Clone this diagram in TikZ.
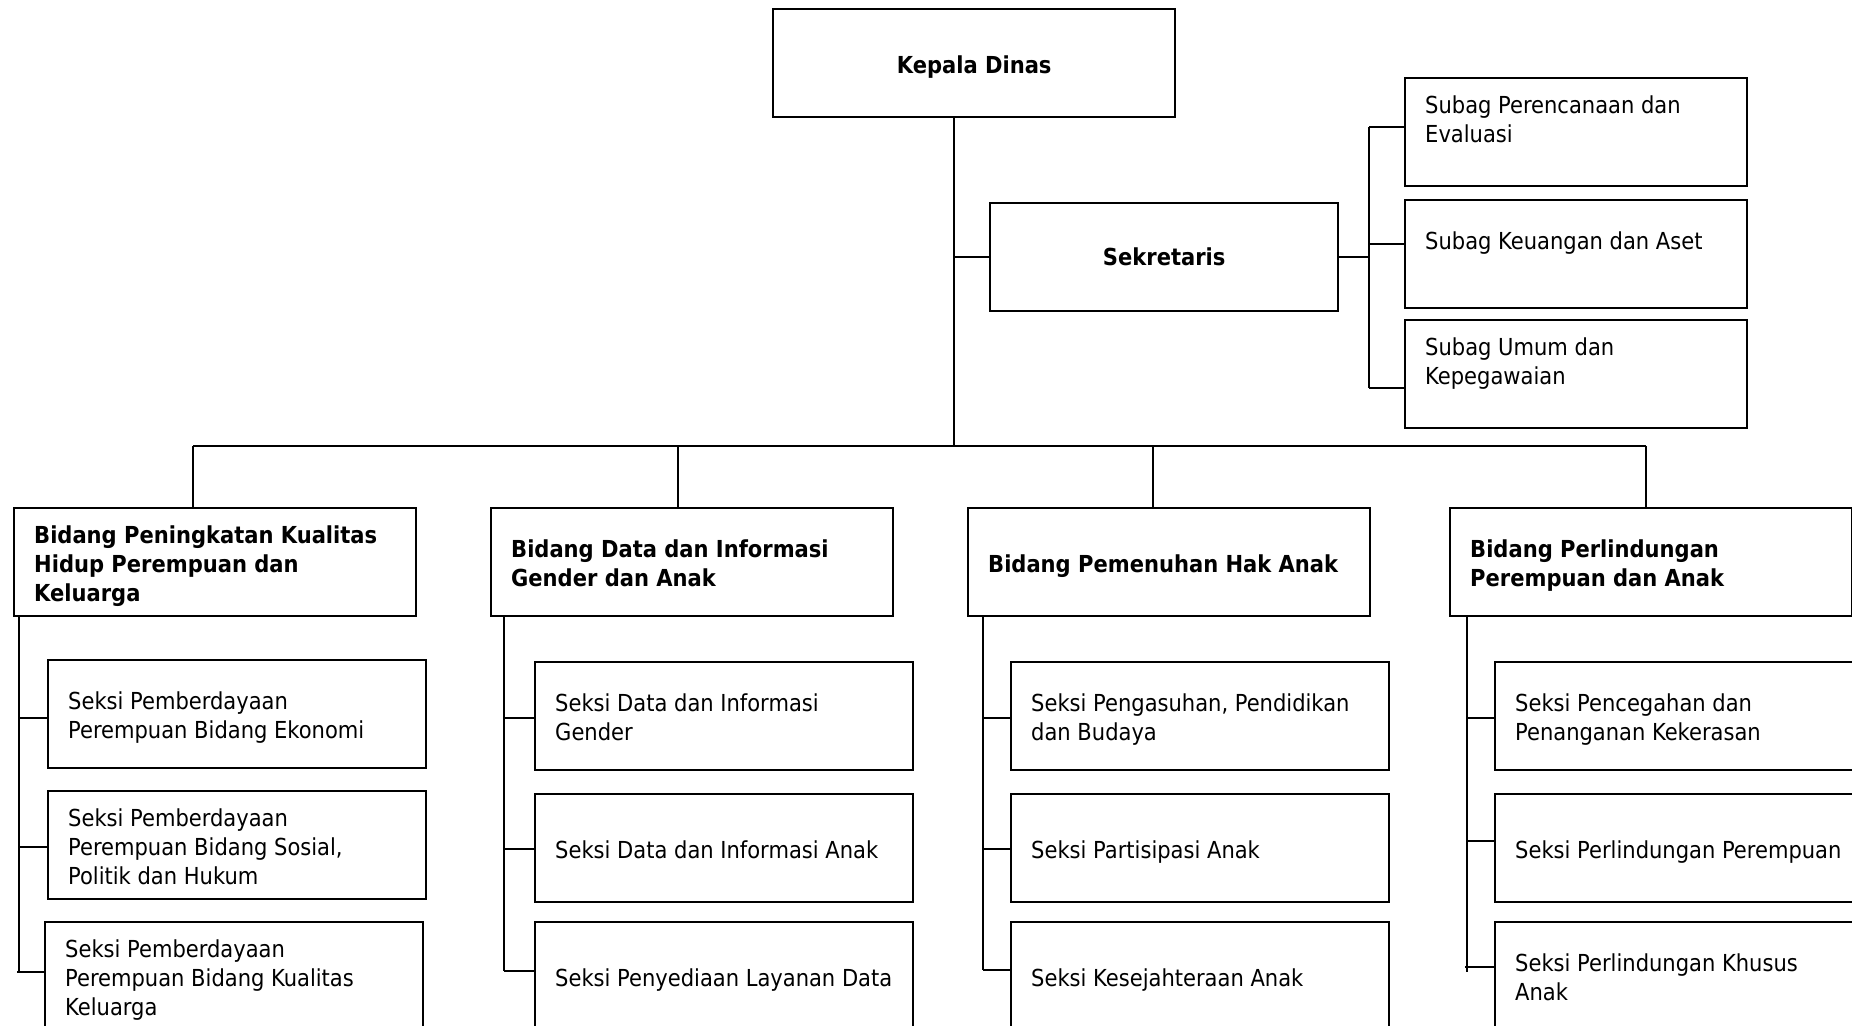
\documentclass[tikz,border=0pt]{standalone}
\usepackage{fontspec}
\setmainfont{DejaVu Sans Condensed}
\newcommand\lb[2]{\makebox[#1][l]{\raisebox{0pt}[\dimexpr\height+4.4pt\relax][\depth]{\begin{tabular}{@{}l@{}}#2\end{tabular}}}}
\newcommand\dn[1]{\raisebox{0pt}[\dimexpr\height+3.6pt\relax][\depth]{#1}}
\begin{document}
\begin{tikzpicture}[x=0.5pt,y=-0.5pt,
  txt/.style={font=\fontsize{11.7pt}{14.45pt}\selectfont},
  bx/.style={txt, draw, line width=1.2pt, anchor=north west, inner xsep=10pt, inner ysep=0pt, minimum height=54pt},
  topbox/.style={bx, minimum width=201pt, font=\fontsize{11.7pt}{14.45pt}\selectfont\bfseries},
  sekbox/.style={bx, minimum width=174pt, font=\fontsize{11.7pt}{14.45pt}\selectfont\bfseries},
  subbox/.style={bx, minimum width=171pt},
  bidbox/.style={bx, minimum width=201pt, font=\fontsize{11.7pt}{14.45pt}\selectfont\bfseries},
  seksbox/.style={bx, minimum width=189pt},
  conn/.style={line width=1.1pt},
  thin/.style={line width=0.8pt}
]
\useasboundingbox (0,0) rectangle (1852,1026);
\clip (0,0) rectangle (1852,1026);

% top
\node[topbox] (kd) at (772,8) {\dn{Kepala Dinas}};
\node[sekbox] (sek) at (989,202) {Sekretaris};

\node[subbox] (sb1) at (1404,77) {\parbox[c][50pt][t]{151pt}{\vspace*{5.4pt}\strut Subag Perencanaan dan\\Evaluasi}};
\node[subbox] (sb2) at (1404,199) {\parbox[c][50pt][t]{151pt}{\vspace*{12.4pt}\strut Subag Keuangan dan Aset}};
\node[subbox] (sb3) at (1404,319) {\parbox[c][50pt][t]{151pt}{\vspace*{5.4pt}\strut Subag Umum dan\\Kepegawaian}};

% bidang
\node[bidbox] (b1) at (13,507) {\lb{181pt}{Bidang Peningkatan Kualitas\\Hidup Perempuan dan\\Keluarga}};
\node[bidbox] (b2) at (490,507) {\lb{181pt}{Bidang Data dan Informasi\\Gender dan Anak}};
\node[bidbox] (b3) at (967,507) {\lb{181pt}{Bidang Pemenuhan Hak Anak}};
\node[bidbox] (b4) at (1449,507) {\lb{181pt}{Bidang Perlindungan\\Perempuan dan Anak}};

% seksi column 1
\node[seksbox] (s11) at (47,659) {\lb{169pt}{Seksi Pemberdayaan\\Perempuan Bidang Ekonomi}};
\node[seksbox] (s12) at (47,790) {\lb{169pt}{Seksi Pemberdayaan\\Perempuan Bidang Sosial,\\Politik dan Hukum}};
\node[seksbox] (s13) at (44,921) {\lb{169pt}{Seksi Pemberdayaan\\Perempuan Bidang Kualitas\\Keluarga}};
% column 2
\node[seksbox] (s21) at (534,661) {\lb{169pt}{Seksi Data dan Informasi\\Gender}};
\node[seksbox] (s22) at (534,793) {\lb{169pt}{Seksi Data dan Informasi Anak}};
\node[seksbox] (s23) at (534,921) {\lb{169pt}{Seksi Penyediaan Layanan Data}};
% column 3
\node[seksbox] (s31) at (1010,661) {\lb{169pt}{Seksi Pengasuhan, Pendidikan\\dan Budaya}};
\node[seksbox] (s32) at (1010,793) {\lb{169pt}{Seksi Partisipasi Anak}};
\node[seksbox] (s33) at (1010,921) {\lb{169pt}{Seksi Kesejahteraan Anak}};
% column 4
\node[seksbox] (s41) at (1494,661) {\lb{169pt}{Seksi Pencegahan dan\\Penanganan Kekerasan}};
\node[seksbox] (s42) at (1494,793) {\lb{169pt}{Seksi Perlindungan Perempuan}};
\node[seksbox] (s43) at (1494,921) {\lb{169pt}{Seksi Perlindungan Khusus\\Anak}};

% connectors: trunk and bus
\coordinate (bus) at (954,446);
\coordinate (busL) at (193,446);
\coordinate (busR) at (1646,446);
\coordinate (d2) at (678,446);
\coordinate (d3) at (1153,446);
\draw[thin] (kd.south -| bus) -- (bus);
\draw[conn] (sek.west) -- (sek.west -| bus);
\draw[conn] (busL) -- (busR);
\draw[thin] (busL) -- (busL |- b1.north);
\draw[thin] (d2) -- (d2 |- b2.north);
\draw[thin] (d3) -- (d3 |- b3.north);
\draw[thin] (busR) -- (busR |- b4.north);

% sekretaris branch
\coordinate (sv1) at (1369,127);
\coordinate (sv2) at (1369,244);
\coordinate (sv3) at (1369,388);
\draw[conn] (sek.east) -- (sek.east -| sv1);
\draw[conn] (sv1) -- (sv3);
\draw[conn] (sv1) -- (sv1 -| sb1.west);
\draw[conn] (sv2) -- (sv2 -| sb2.west);
\draw[conn] (sv3) -- (sv3 -| sb3.west);

% column 1 branch
\coordinate (c11) at (19,718);
\coordinate (c12) at (19,847);
\coordinate (c13) at (17,972);
\draw[conn] (c11 |- b1.south) -- (19,972) -- (c13);
\draw[conn] (c11) -- (c11 -| s11.west);
\draw[conn] (c12) -- (c12 -| s12.west);
\draw[conn] (c13) -- (c13 -| s13.west);
% column 2 branch
\coordinate (c21) at (504,718);
\coordinate (c22) at (504,849);
\coordinate (c23) at (504,971);
\draw[thin] (c21 |- b2.south) -- (c23);
\draw[conn] (c21) -- (c21 -| s21.west);
\draw[conn] (c22) -- (c22 -| s22.west);
\draw[conn] (c23) -- (c23 -| s23.west);
% column 3 branch
\coordinate (c31) at (983,718);
\coordinate (c32) at (983,849);
\coordinate (c33) at (983,970);
\draw[conn] (c31 |- b3.south) -- (c33);
\draw[conn] (c31) -- (c31 -| s31.west);
\draw[conn] (c32) -- (c32 -| s32.west);
\draw[conn] (c33) -- (c33 -| s33.west);
% column 4 branch
\coordinate (c41) at (1467,718);
\coordinate (c42) at (1467,841);
\coordinate (c43) at (1465,967);
\draw[conn] (c41 |- b4.south) -- (1467,972);
\draw[conn] (c41) -- (c41 -| s41.west);
\draw[conn] (c42) -- (c42 -| s42.west);
\draw[conn] (c43) -- (c43 -| s43.west);
\end{tikzpicture}
\end{document}
